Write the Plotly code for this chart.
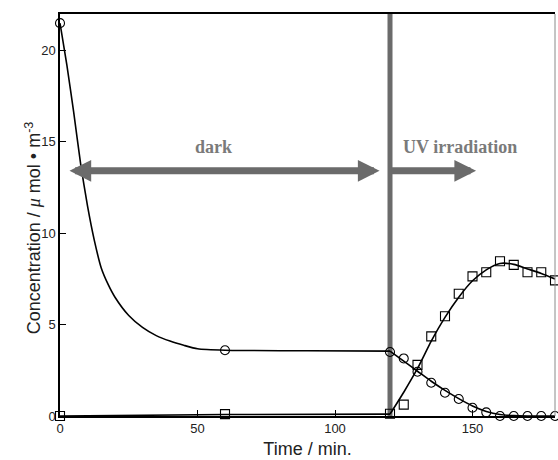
import plotly.graph_objects as go

# Measured points
circle_t = [0, 60, 120, 125, 130, 135, 140, 145, 150, 155, 160, 165, 170, 175, 180]
circle_c = [21.5, 3.6, 3.5, 3.15, 2.42, 1.82, 1.27, 0.93, 0.45, 0.2, 0.0, 0.0, 0.0, 0.0, 0.0]
square_t = [0, 60, 120, 125, 130, 135, 140, 145, 150, 155, 160, 165, 170, 175, 180]
square_c = [0.0, 0.1, 0.12, 0.62, 2.8, 4.36, 5.46, 6.69, 7.64, 7.87, 8.47, 8.27, 7.87, 7.87, 7.42]

# Fitted curves
fit_dark_t = [0, 2.5, 5, 7.5, 10, 12.5, 15, 17.5, 20, 25, 30, 35, 40, 45, 50, 60, 90, 120]
fit_dark_c = [21.5, 19.2, 16.6, 13.8, 11.5, 9.6, 8.1, 7.2, 6.5, 5.5, 4.85, 4.4, 4.1, 3.87, 3.68, 3.6, 3.57, 3.55]
fit_circ_uv_t = [120, 125, 130, 135, 140, 145, 150, 155, 160, 165, 170, 175, 180]
fit_circ_uv_c = [3.55, 3.0, 2.45, 1.9, 1.4, 0.95, 0.55, 0.25, 0.08, 0.02, 0.0, 0.0, 0.0]
fit_sq_dark_t = [0, 60, 120]
fit_sq_dark_c = [0.0, 0.08, 0.1]
fit_sq_uv_t = [120, 125, 130, 135, 140, 145, 150, 155, 160, 165, 170, 175, 180]
fit_sq_uv_c = [0.1, 1.3, 2.6, 4.1, 5.4, 6.5, 7.4, 8.0, 8.35, 8.3, 8.05, 7.8, 7.5]

x_ticks = [0, 50, 100, 150]
y_ticks = [0, 5, 10, 15, 20]

switch_t = 120
arrow_c = 13.42
dark_arrow = (2.9, 116.2)
uv_arrow = (120, 151.3)

GRAY = "#6b6b6b"

fig = go.Figure()
for tx, ty in [(fit_dark_t, fit_dark_c), (fit_circ_uv_t, fit_circ_uv_c),
               (fit_sq_dark_t, fit_sq_dark_c), (fit_sq_uv_t, fit_sq_uv_c)]:
    fig.add_trace(go.Scatter(x=tx, y=ty, mode="lines",
                             line=dict(color="black", width=1.6, shape="spline", smoothing=0.6),
                             hoverinfo="skip", showlegend=False, cliponaxis=False))

fig.add_trace(go.Scatter(x=circle_t, y=circle_c, mode="markers", cliponaxis=False,
                         marker=dict(symbol="circle-open", size=9, color="black", line=dict(width=1.1)),
                         showlegend=False))
fig.add_trace(go.Scatter(x=square_t, y=square_c, mode="markers", cliponaxis=False,
                         marker=dict(symbol="square-open", size=9, color="black", line=dict(width=1.1)),
                         showlegend=False))

# vertical switch line
fig.add_shape(type="line", x0=switch_t, x1=switch_t, y0=0, y1=22, xref="x", yref="y",
              line=dict(color=GRAY, width=5), layer="below")
# right border (gray)
fig.add_shape(type="line", x0=1, x1=1, y0=0, y1=1, xref="paper", yref="paper",
              line=dict(color="#8a8a8a", width=1))

# arrows
fig.add_annotation(x=dark_arrow[1], y=arrow_c, ax=dark_arrow[0], ay=arrow_c,
                   xref="x", yref="y", axref="x", ayref="y", text="", showarrow=True,
                   arrowside="end+start", arrowhead=2, startarrowhead=2,
                   arrowsize=0.62, startarrowsize=0.62, arrowwidth=7, arrowcolor=GRAY)
fig.add_annotation(x=uv_arrow[1], y=arrow_c, ax=uv_arrow[0], ay=arrow_c,
                   xref="x", yref="y", axref="x", ayref="y", text="", showarrow=True,
                   arrowhead=2, arrowsize=0.62, arrowwidth=7, arrowcolor=GRAY)

fig.add_annotation(x=55.9, y=14.7, xref="x", yref="y", text="<b>dark</b>", showarrow=False,
                   font=dict(family="Liberation Serif", size=18, color="#7a7a7a"))
fig.add_annotation(x=145.3, y=14.7, xref="x", yref="y", text="<b>UV irradiation</b>", showarrow=False,
                   font=dict(family="Liberation Serif", size=18, color="#7a7a7a"))

# y title
fig.add_annotation(x=-0.081, y=0.468, xref="paper", yref="paper", textangle=-90, showarrow=False,
                   text="Concentration / <span style=\"font-family:'Liberation Serif'\"><i>\u03bc</i></span> mol \u2022 m<sup>-3</sup>",
                   font=dict(family="Liberation Sans", size=18, color="#222"))

fig.update_layout(
    width=558, height=460,
    margin=dict(l=60, r=3, t=14, b=44),
    paper_bgcolor="white", plot_bgcolor="white",
    font=dict(family="Liberation Sans", size=13, color="#222"),
    xaxis=dict(range=[0, 180], tickvals=x_ticks, ticks="inside", ticklen=6, tickcolor="black",
               showline=True, linecolor="black", linewidth=1.5, mirror=True,
               showgrid=False, zeroline=False,
               title=dict(text="Time / min.", font=dict(size=18), standoff=7)),
    yaxis=dict(range=[0, 22], tickvals=y_ticks, ticks="inside", ticklen=6, tickcolor="black",
               showline=True, linecolor="black", linewidth=1.5,
               showgrid=False, zeroline=False),
)

fig.write_html("out.html", config={"displayModeBar": False},
               post_script="document.body.style.margin='0px';")
